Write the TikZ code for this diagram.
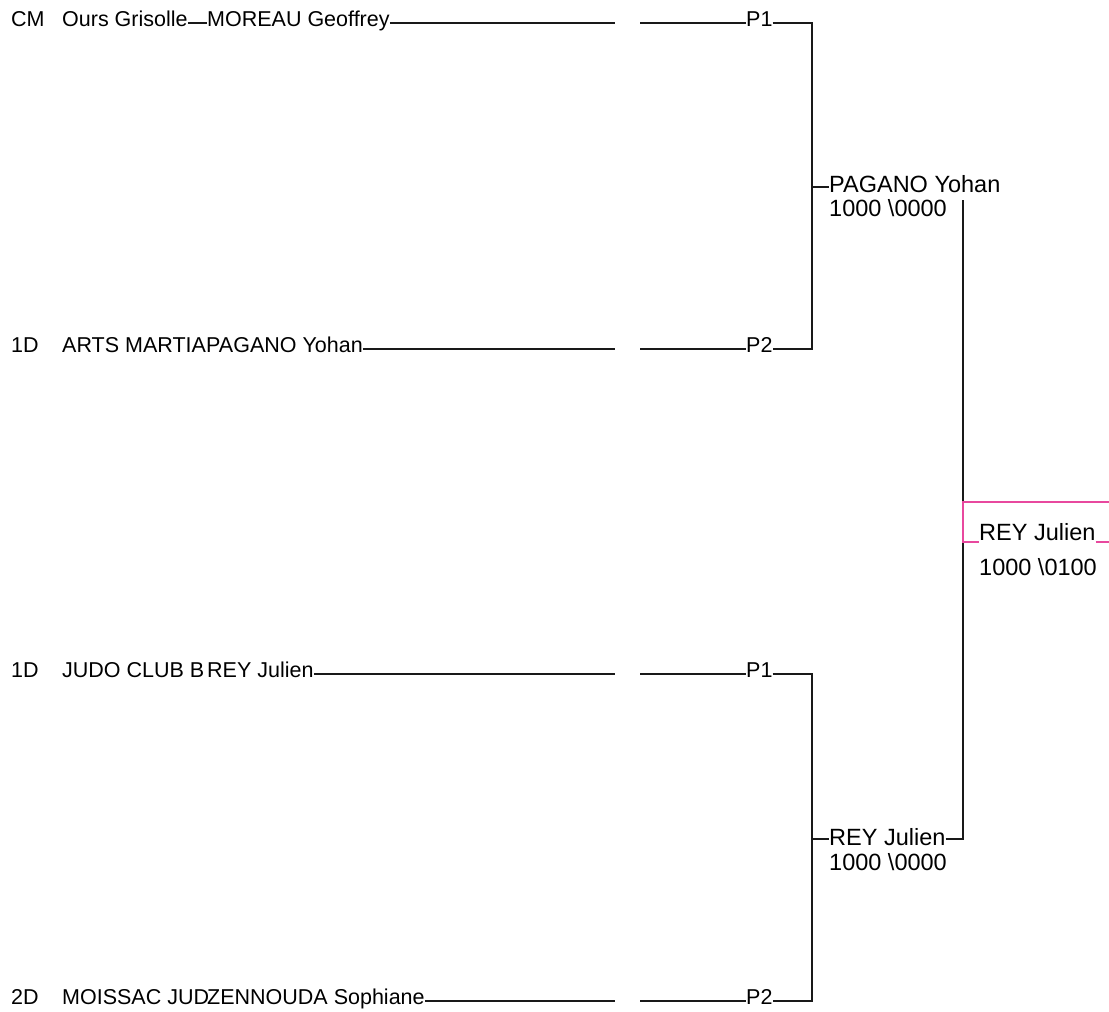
\documentclass[tikz,border=0pt]{standalone}
\usepackage{fontspec}
\setmainfont{Liberation Sans}
\usetikzlibrary{positioning}
\definecolor{finalPink}{HTML}{E8489E}

\begin{document}
\begin{tikzpicture}[x=1pt,y=-1pt,
  entry/.style={anchor=base west,inner sep=0pt,font=\fontsize{21.5}{24}\selectfont},
  winner/.style={anchor=base west,inner sep=0pt,font=\fontsize{23.5}{26}\selectfont},
  wire/.style={line width=1.2pt,black!90},
  finalwire/.style={line width=1.2pt,finalPink}]
  \useasboundingbox (0,0) rectangle (1109,1012);
  % tableau de gauche
  \node[entry] (cat1) at (11,26) {CM};
  \node[entry] (club1) at (62,26) {Ours Grisolle};
  \node[entry] (name1) at (207,26) {MOREAU Geoffrey};
  \node[entry] (pos1) at (746,26) {P1};
  \node[entry] (cat2) at (11,352) {1D};
  \node[entry] (club2) at (62,352) {ARTS MARTIA};
  \node[entry] (name2) at (206,352) {PAGANO Yohan};
  \node[entry] (pos2) at (746,352) {P2};
  \node[entry] (cat3) at (11,677) {1D};
  \node[entry] (club3) at (62,677) {JUDO CLUB B};
  \node[entry] (name3) at (207,677) {REY Julien};
  \node[entry] (pos3) at (746,677) {P1};
  \node[entry] (cat4) at (11,1004) {2D};
  \node[entry] (club4) at (62,1004) {MOISSAC JUD};
  \node[entry] (name4) at (207,1004) {ZENNOUDA Sophiane};
  \node[entry] (pos4) at (746,1004) {P2};
  % vainqueurs
  \node[winner] (win1) at (829,192) {PAGANO Yohan};
  \node[winner] (score1) at (829,216) {1000 \textbackslash 0000};
  \node[winner] (win2) at (829,845) {REY Julien};
  \node[winner] (score2) at (829,870) {1000 \textbackslash 0000};
  \node[winner] (champ) at (979,540) {REY Julien};
  \node[winner] (champscore) at (979,575) {1000 \textbackslash 0100};
  \coordinate (top2) at (963,200);
  % lignes
  \draw[wire] (club1.east |- 0,23) -- (name1.west |- 0,23);
  \draw[wire] (name1.east |- 0,23) -- (615,23);
  \draw[wire] (640,23) -- (pos1.west |- 0,23);
  \draw[wire] (name2.east |- 0,349) -- (615,349);
  \draw[wire] (640,349) -- (pos2.west |- 0,349);
  \draw[wire] (name3.east |- 0,674) -- (615,674);
  \draw[wire] (640,674) -- (pos3.west |- 0,674);
  \draw[wire] (name4.east |- 0,1001) -- (615,1001);
  \draw[wire] (640,1001) -- (pos4.west |- 0,1001);
  \draw[wire] (pos1.east |- 0,23) -| (812,187) |- (pos2.east |- 0,349);
  \draw[wire] (812,187) -- (win1.west |- 0,187);
  \draw[wire] (pos3.east |- 0,674) -| (812,839) |- (pos4.east |- 0,1001);
  \draw[wire] (812,839) -- (win2.west |- 0,839);
  \draw[wire] (win2.east |- 0,839) -| (top2);
  % finale
  \draw[finalwire] (1109,502) -- (963,502) -- (963,542) -- (champ.west |- 0,542);
  \draw[finalwire] (champ.east |- 0,542) -- (1109,542);
\end{tikzpicture}
\end{document}
